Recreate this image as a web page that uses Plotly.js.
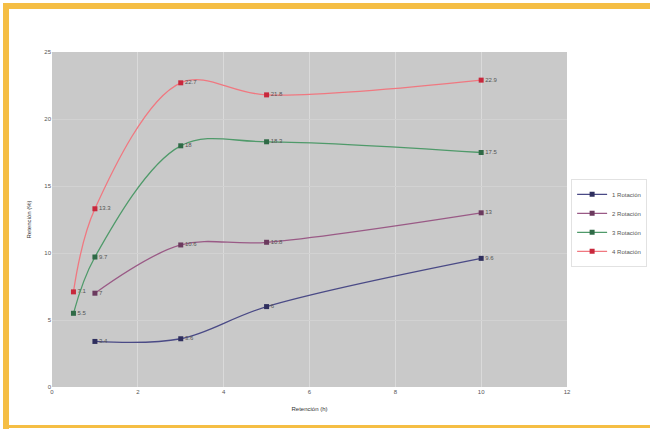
<!DOCTYPE html>
<html>
<head>
<meta charset="utf-8">
<script src="https://cdn.plot.ly/plotly-3.0.1.min.js"></script>
<style>
  html, body { margin: 0; padding: 0; background: #ffffff; }
  #wrap { position: relative; width: 650px; height: 431px; overflow: hidden; }
  #chart { position: absolute; left: 0; top: 0; width: 650px; height: 431px; }
  .bar { position: absolute; background: #F5BE44; }
</style>
</head>
<body>
<div id="wrap">
  <div id="chart"></div>
  <div class="bar" style="left:3px; top:3px; width:647px; height:6px;"></div>
  <div class="bar" style="left:3px; top:3px; width:6px; height:426px;"></div>
  <div class="bar" style="left:3px; top:425px; width:647px; height:3px;"></div>
</div>
<script>
// ---- data ----
var seriesNames = ['1 Rotación', '2 Rotación', '3 Rotación', '4 Rotación'];
var xBlue = [1, 3, 5, 10];
var yBlue = [3.4, 3.6, 6, 9.6];
var xPurple = [1, 3, 5, 10];
var yPurple = [7.0, 10.6, 10.8, 13];
var xGreen = [0.5, 1, 3, 5, 10];
var yGreen = [5.5, 9.7, 18, 18.3, 17.5];
var xRed = [0.5, 1, 3, 5, 10];
var yRed = [7.1, 13.3, 22.7, 21.8, 22.9];
var xTickVals = [0, 2, 4, 6, 8, 10, 12];
var yTickVals = [0, 5, 10, 15, 20, 25];

function mk(x, y, name, lineColor, markerColor) {
  return {
    x: x, y: y, name: name, type: 'scatter', mode: 'lines+markers+text',
    line: { color: lineColor, width: 1.3, shape: 'spline', smoothing: 1 },
    marker: { symbol: 'square', size: 5, color: markerColor, line: { width: 0 } },
    text: y.map(String), textposition: 'middle right',
    textfont: { family: 'Liberation Sans, Arial, sans-serif', size: 6, color: '#555555' },
    cliponaxis: false
  };
}

var data = [
  mk(xBlue, yBlue, seriesNames[0], '#4a4a86', '#2f2f5e'),
  mk(xPurple, yPurple, seriesNames[1], '#9a5a86', '#6b3a5e'),
  mk(xGreen, yGreen, seriesNames[2], '#4f9a6a', '#2f6a46'),
  mk(xRed, yRed, seriesNames[3], '#f07880', '#c8283c')
];

var layout = {
  width: 650, height: 431,
  margin: { l: 52, r: 83, t: 52, b: 44, autoexpand: false },
  paper_bgcolor: 'rgba(0,0,0,0)',
  plot_bgcolor: '#c9c9c9',
  font: { family: 'Liberation Sans, Arial, sans-serif', size: 6, color: '#444444' },
  showlegend: true,
  legend: {
    x: 1.008, y: 0.49, xanchor: 'left', yanchor: 'middle',
    bgcolor: '#ffffff', bordercolor: '#e2e2e2', borderwidth: 1,
    font: { size: 6, color: '#555555' }, itemwidth: 30, tracegroupgap: 0
  },
  xaxis: {
    range: [0, 12], tickvals: xTickVals, ticktext: xTickVals.map(String),
    showgrid: true, gridcolor: '#dadada', gridwidth: 1,
    zeroline: false, showline: false, ticks: '',
    tickfont: { size: 6, color: '#555555' },
    title: { text: 'Retención (h)', font: { size: 6, color: '#333333' }, standoff: 12 }
  },
  yaxis: {
    range: [0, 25], tickvals: yTickVals, ticktext: yTickVals.map(String),
    showgrid: true, gridcolor: '#d2d2d2', gridwidth: 1,
    zeroline: false, showline: false, ticks: '',
    tickfont: { size: 6, color: '#555555' },
    title: { text: 'Retención (%)', font: { size: 6, color: '#333333' }, standoff: 12 }
  }
};

Plotly.newPlot('chart', data, layout, { displayModeBar: false, staticPlot: true });
</script>
</body>
</html>
